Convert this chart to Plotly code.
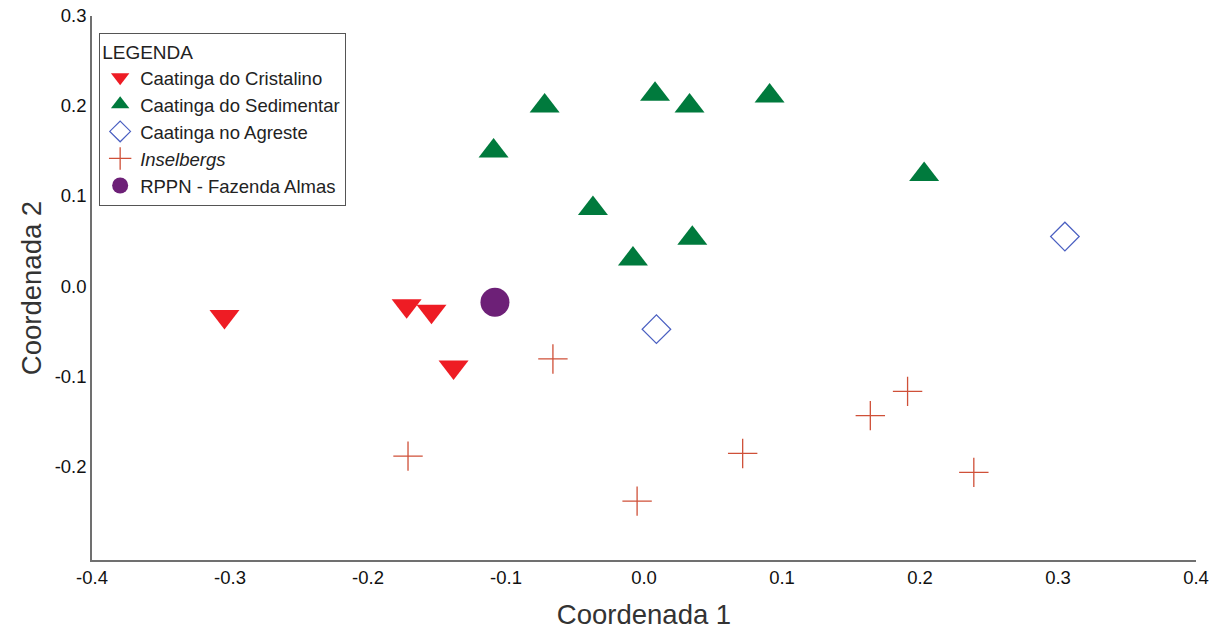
import plotly.graph_objects as go

# Data
cristalino_x = [-0.304, -0.172, -0.154, -0.138]
cristalino_y = [-0.034, -0.022, -0.028, -0.090]

sedimentar_x = [-0.072, 0.008, 0.033, 0.091, -0.109, -0.037, -0.008, 0.035, 0.203]
sedimentar_y = [0.200, 0.213, 0.200, 0.211, 0.150, 0.086, 0.030, 0.053, 0.124]

agreste_x = [0.009, 0.305]
agreste_y = [-0.048, 0.055]

insel_x = [-0.066, -0.171, 0.191, 0.164, 0.239, 0.0715, -0.005]
insel_y = [-0.081, -0.189, -0.117, -0.144, -0.207, -0.186, -0.239]

rppn_x = [-0.108]
rppn_y = [-0.018]

x_ticks = [-0.4, -0.3, -0.2, -0.1, 0.0, 0.1, 0.2, 0.3, 0.4]
x_ticklabels = ["-0.4", "-0.3", "-0.2", "-0.1", "0.0", "0.1", "0.2", "0.3", "0.4"]
y_ticks = [-0.2, -0.1, 0.0, 0.1, 0.2, 0.3]
y_ticklabels = ["-0.2", "-0.1", "0.0", "0.1", "0.2", "0.3"]

FONT = "Liberation Sans, Arial, sans-serif"

fig = go.Figure()
fig.add_trace(go.Scatter(
    x=cristalino_x, y=cristalino_y, mode="markers", name="Caatinga do Cristalino",
    marker=dict(symbol="triangle-down", size=26, color="#ee1c24", line=dict(width=0))))
fig.add_trace(go.Scatter(
    x=sedimentar_x, y=sedimentar_y, mode="markers", name="Caatinga do Sedimentar",
    marker=dict(symbol="triangle-up", size=26, color="#007a3d", line=dict(width=0))))
fig.add_trace(go.Scatter(
    x=agreste_x, y=agreste_y, mode="markers", name="Caatinga no Agreste",
    marker=dict(symbol="diamond-open", size=22, color="#4a5fc1", line=dict(width=1.2, color="#4a5fc1"))))
fig.add_trace(go.Scatter(
    x=insel_x, y=insel_y, mode="markers", name="<i>Inselbergs</i>",
    marker=dict(symbol="cross-thin", size=21, color="#cf5038", line=dict(width=1.3, color="#cf5038"))))
fig.add_trace(go.Scatter(
    x=rppn_x, y=rppn_y, mode="markers", name="RPPN - Fazenda Almas",
    marker=dict(symbol="circle", size=29, color="#6d2077", line=dict(width=0))))

axis_common = dict(
    showgrid=False, zeroline=False, showline=True, linecolor="#707070", linewidth=1.5,
    ticks="", tickfont=dict(family=FONT, size=18.5, color="#111"), automargin=False,
)

fig.update_layout(
    width=1218, height=632,
    margin=dict(l=92, r=22, t=16, b=72),
    paper_bgcolor="white", plot_bgcolor="white",
    font=dict(family=FONT, color="#222"),
    xaxis=dict(range=[-0.4, 0.4], tickvals=x_ticks, ticktext=x_ticklabels,
               title=dict(text="Coordenada 1", font=dict(family=FONT, size=27.5, color="#333"), standoff=18),
               **axis_common),
    yaxis=dict(range=[-0.3044, 0.3], tickvals=y_ticks, ticktext=y_ticklabels,
               title=dict(text="Coordenada 2", font=dict(family=FONT, size=27.5, color="#333"), standoff=5),
               **axis_common),
    legend=dict(
        x=0.0063, y=0.969, xanchor="left", yanchor="top",
        bgcolor="white", bordercolor="#555", borderwidth=1.2,
        title=dict(text="LEGENDA", font=dict(family=FONT, size=19, color="#222")),
        font=dict(family=FONT, size=18.5, color="#222"),
        tracegroupgap=0, itemsizing="trace", itemwidth=30,
    ),
    showlegend=True,
)

fig.write_html("out.html", config={"displayModeBar": False},
               post_script="document.body.style.margin='0';")
